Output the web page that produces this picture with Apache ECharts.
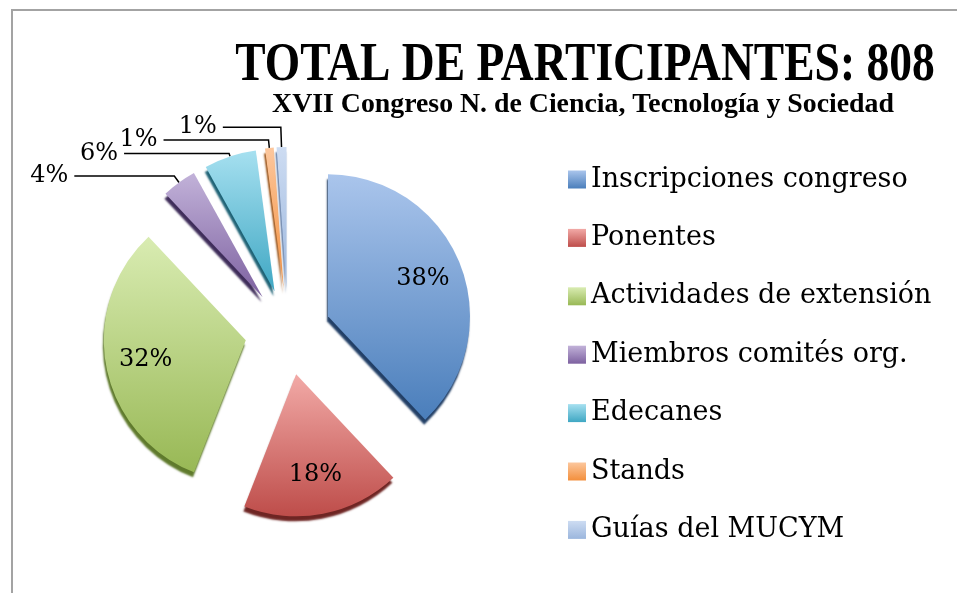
<!DOCTYPE html>
<html>
<head>
<meta charset="utf-8">
<script src="https://cdn.jsdelivr.net/npm/echarts@6/dist/echarts.min.js"></script>
<style>
  html, body { margin: 0; padding: 0; background: #fff; }
  #main { width: 957px; height: 593px; }
</style>
</head>
<body>
<div id="main"></div>
<script>
var categories = ['Inscripciones congreso', 'Ponentes', 'Actividades de extensión',
    'Miembros comités org.', 'Edecanes', 'Stands', 'Guías del MUCYM'];
var participants = [307, 145, 259, 32, 48, 8, 9];
var titleText = 'TOTAL DE PARTICIPANTES: 808';
var subtitleText = 'XVII Congreso N. de Ciencia, Tecnología y Sociedad';

// light (top) / dark (bottom) colour of each slice
var topColors = ['#aac5ec', '#f2aaa7', '#d9ecb2', '#c2b2d9', '#a6e0f0', '#fcc79d', '#cddcf2'];
var bottomColors = ['#4a7ebb', '#be4d4a', '#98b855', '#7d61a0', '#3fa7c3', '#f38f3c', '#9bb6dd'];
var sideColors = ['#223f66', '#6e2523', '#5f7a2c', '#3f2d5a', '#1f6376', '#9a5317', '#5b76a0'];

// leader line lengths [radial, horizontal] for the small slices
var leaderLengths = { 3: [8, 100], 4: [3, 105], 5: [8, 105], 6: [20, 58] };
var insidePush = 28;

var chart = echarts.init(document.getElementById('main'));

var total = participants.reduce(function (a, b) { return a + b; }, 0);
var midAngles = [];
var acc = 0;
participants.forEach(function (v) {
    midAngles.push((acc + v / 2) / total * Math.PI * 2);
    acc += v;
});

var pieData = participants.map(function (v, i) {
    var inside = i < 3;
    var item = {
        name: categories[i],
        value: v,
        selected: true,
        itemStyle: {
            color: new echarts.graphic.LinearGradient(0, 0, 0, 1, [
                { offset: 0, color: topColors[i] },
                { offset: 1, color: bottomColors[i] }
            ]),
            shadowColor: sideColors[i],
            shadowBlur: 2,
            shadowOffsetX: -1,
            shadowOffsetY: 5
        }
    };
    if (inside) {
        item.label = { position: 'inside' };
        item.labelLine = { show: false };
    } else {
        item.label = { position: 'outside' };
        item.labelLine = {
            show: true,
            length: leaderLengths[i][0],
            length2: leaderLengths[i][1]
        };
    }
    return item;
});

var option = {
    animation: false,
    backgroundColor: '#ffffff',
    graphic: [
        {
            type: 'rect',
            shape: { x: 12, y: 10, width: 1000, height: 700 },
            style: { fill: 'none', stroke: '#a3a3a3', lineWidth: 2 },
            silent: true
        },
        {
            type: 'text',
            x: 585, y: 66,
            scaleX: 0.843,
            style: {
                text: titleText,
                font: 'bold 54px "Liberation Serif"',
                fill: '#000',
                textAlign: 'center',
                textVerticalAlign: 'middle'
            }
        },
        {
            type: 'text',
            x: 583, y: 105,
            scaleX: 1.03,
            style: {
                text: subtitleText,
                font: 'bold 27px "Liberation Serif"',
                fill: '#000',
                textAlign: 'center',
                textVerticalAlign: 'middle'
            }
        }
    ],
    legend: {
        orient: 'vertical',
        left: 568,
        top: 166,
        padding: 0,
        itemWidth: 18,
        itemHeight: 18,
        itemGap: 31.4,
        icon: 'rect',
        selectedMode: false,
        data: categories,
        textStyle: {
            fontFamily: 'DejaVu Serif',
            fontSize: 27,
            lineHeight: 26,
            color: '#000'
        }
    },
    series: [
        {
            type: 'pie',
            center: [288, 332],
            radius: 142,
            startAngle: 90,
            clockwise: true,
            selectedMode: 'multiple',
            selectedOffset: 43,
            percentPrecision: 0,
            avoidLabelOverlap: false,
            label: {
                formatter: '{d}%',
                fontFamily: 'DejaVu Serif',
                fontSize: 24,
                color: '#000',
                distanceToLabelLine: 6
            },
            labelLine: {
                lineStyle: { color: '#000', width: 1.5 }
            },
            labelLayout: function (params) {
                var i = params.dataIndex;
                if (i >= 3) return { hideOverlap: false };
                return {
                    hideOverlap: false,
                    dx: Math.sin(midAngles[i]) * insidePush,
                    dy: -Math.cos(midAngles[i]) * insidePush
                };
            },
            emphasis: { scale: false },
            data: pieData
        }
    ]
};

chart.setOption(option);
</script>
</body>
</html>
